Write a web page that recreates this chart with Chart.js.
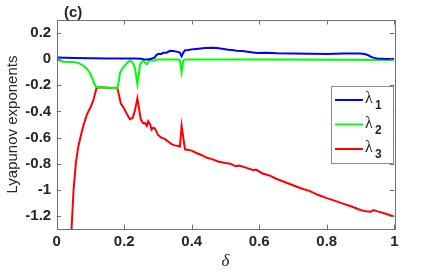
<!DOCTYPE html>
<html>
<head>
<meta charset="utf-8">
<script src="https://cdn.jsdelivr.net/npm/chart.js@4"></script>
<style>
  html, body { margin: 0; padding: 0; background: #fff; }
  #wrap { width: 436px; height: 273px; }
</style>
</head>
<body>
<div id="wrap"><canvas id="c" width="436" height="273"></canvas></div>
<script>
const seriesNames = ['λ1', 'λ2', 'λ3'];
const seriesColors = ['#0000ff', '#00ff00', '#ff0000'];

const xTicks = [0, 0.2, 0.4, 0.6, 0.8, 1];
const xTickLabels = ['0', '0.2', '0.4', '0.6', '0.8', '1'];
const yTicks = [0.2, 0, -0.2, -0.4, -0.6, -0.8, -1, -1.2];
const yTickLabels = ['0.2', '0', '-0.2', '-0.4', '-0.6', '-0.8', '-1', '-1.2'];

// lambda 1
const delta1 = [0, 0.05, 0.1, 0.15, 0.2, 0.23, 0.25, 0.26, 0.27, 0.28, 0.29, 0.295, 0.3, 0.31, 0.316, 0.325,
  0.336, 0.345, 0.355, 0.365, 0.37, 0.375, 0.38, 0.39, 0.405, 0.42, 0.44, 0.46, 0.474, 0.49, 0.508, 0.52,
  0.533, 0.55, 0.57, 0.593, 0.62, 0.652, 0.7, 0.75, 0.8, 0.85, 0.899, 0.915, 0.923, 0.93, 0.938, 0.95, 0.97, 1];
const lambda1 = [0.012, 0.01, 0.007, 0.005, 0.005, 0.006, 0.003, -0.003, -0.002, 0.003, 0.012, 0.03, 0.04, 0.04, 0.05, 0.05,
  0.064, 0.062, 0.058, 0.05, 0.022, 0.05, 0.068, 0.07, 0.077, 0.08, 0.085, 0.087, 0.085, 0.08, 0.073, 0.07,
  0.064, 0.062, 0.055, 0.047, 0.05, 0.046, 0.044, 0.042, 0.04, 0.043, 0.043, 0.038, 0.03, 0.02, 0.012, 0.006, 0.003, 0.002];

// lambda 2
const delta2 = [0, 0.01, 0.02, 0.04, 0.055, 0.065, 0.079, 0.09, 0.097, 0.103, 0.108, 0.113, 0.118, 0.13, 0.15, 0.17,
  0.18, 0.184, 0.188, 0.195, 0.202, 0.21, 0.217, 0.225, 0.232, 0.236, 0.239, 0.243, 0.247, 0.252, 0.257, 0.262,
  0.267, 0.272, 0.276, 0.282, 0.286, 0.295, 0.3, 0.36, 0.365, 0.37, 0.375, 0.38, 0.6, 0.8, 1];
const lambda2 = [0, -0.012, -0.02, -0.021, -0.023, -0.03, -0.05, -0.075, -0.1, -0.13, -0.167, -0.195, -0.215, -0.215, -0.218, -0.22,
  -0.222, -0.17, -0.1, -0.07, -0.05, -0.025, -0.01, -0.025, -0.07, -0.14, -0.19, -0.12, -0.04, -0.02, -0.013, -0.03,
  -0.04, -0.02, -0.005, -0.01, -0.013, -0.004, -0.003, -0.003, -0.01, -0.1, -0.01, -0.003, -0.003, -0.004, -0.006];

// lambda 3
const delta3 = [0.04, 0.044, 0.05, 0.057, 0.064, 0.071, 0.08, 0.09, 0.1, 0.108, 0.113, 0.118, 0.13, 0.15, 0.17, 0.18,
  0.185, 0.19, 0.2, 0.21, 0.217, 0.225, 0.232, 0.239, 0.244, 0.249, 0.256, 0.262, 0.267, 0.271, 0.277, 0.281,
  0.286, 0.291, 0.3, 0.31, 0.32, 0.33, 0.34, 0.35, 0.36, 0.365, 0.37, 0.375, 0.38, 0.39, 0.4, 0.415,
  0.43, 0.445, 0.46, 0.48, 0.5, 0.514, 0.53, 0.54, 0.56, 0.583, 0.59, 0.61, 0.63, 0.65, 0.675, 0.7,
  0.725, 0.75, 0.775, 0.8, 0.825, 0.85, 0.875, 0.9, 0.915, 0.93, 0.938, 0.95, 0.97, 1];
const lambda3 = [-1.5, -1.3, -1.0, -0.79, -0.67, -0.59, -0.5, -0.42, -0.37, -0.32, -0.27, -0.22, -0.215, -0.218, -0.22, -0.225,
  -0.28, -0.34, -0.38, -0.43, -0.46, -0.45, -0.39, -0.3, -0.38, -0.46, -0.49, -0.49, -0.51, -0.475, -0.5, -0.54,
  -0.525, -0.53, -0.58, -0.6, -0.61, -0.63, -0.65, -0.66, -0.665, -0.67, -0.51, -0.6, -0.69, -0.695, -0.7, -0.72,
  -0.735, -0.755, -0.765, -0.785, -0.795, -0.8, -0.82, -0.815, -0.83, -0.85, -0.845, -0.875, -0.89, -0.915, -0.94, -0.965,
  -0.99, -1.01, -1.04, -1.064, -1.085, -1.108, -1.13, -1.154, -1.165, -1.168, -1.155, -1.165, -1.18, -1.205];

const pts = (xs, ys) => xs.map((x, i) => ({ x: x, y: ys[i] }));
const allDelta = [delta1, delta2, delta3];
const allLambda = [lambda1, lambda2, lambda3];

const textColor = '#262626';
const axisColor = '#707070';

// MATLAB style box, inner ticks, panel tag and legend
const matlabBox = {
  id: 'matlabBox',
  afterDatasetsDraw(chart) {
    const { ctx, chartArea: a, scales } = chart;
    ctx.save();
    ctx.strokeStyle = axisColor;
    ctx.lineWidth = 1;
    ctx.strokeRect(Math.round(a.left) + 0.5, Math.round(a.top) + 0.5,
      Math.round(a.right - a.left), Math.round(a.bottom - a.top));
    const tl = 4.5;
    ctx.beginPath();
    xTicks.forEach(v => {
      const px = Math.round(scales.x.getPixelForValue(v)) + 0.5;
      ctx.moveTo(px, a.bottom); ctx.lineTo(px, a.bottom - tl);
      ctx.moveTo(px, a.top); ctx.lineTo(px, a.top + tl);
    });
    yTicks.forEach(v => {
      const py = Math.round(scales.y.getPixelForValue(v)) + 0.5;
      ctx.moveTo(a.left, py); ctx.lineTo(a.left + tl, py);
      ctx.moveTo(a.right, py); ctx.lineTo(a.right - tl, py);
    });
    ctx.stroke();

    // panel tag
    ctx.fillStyle = textColor;
    ctx.font = 'bold 15px "Liberation Sans", Arial, sans-serif';
    ctx.textBaseline = 'middle';
    ctx.textAlign = 'left';
    ctx.fillText('(c)', 64, 13);

    // legend
    const lx = 331, ly = 86, lw = 62, lh = 77;
    ctx.fillStyle = '#fff';
    ctx.fillRect(lx, ly, lw, lh);
    ctx.strokeStyle = '#8c8c8c';
    ctx.strokeRect(lx + 0.5, ly + 0.5, lw, lh);
    chart.data.datasets.forEach((ds, i) => {
      const y = 100 + i * 24.5;
      ctx.strokeStyle = ds.borderColor;
      ctx.lineWidth = 2;
      ctx.beginPath();
      ctx.moveTo(335, y); ctx.lineTo(363, y);
      ctx.stroke();
      ctx.fillStyle = textColor;
      ctx.font = '16px "Liberation Serif", "DejaVu Serif", serif';
      ctx.textBaseline = 'alphabetic';
      ctx.fillText(ds.label.charAt(0), 365, y + 3);
      ctx.font = 'bold 12px "Liberation Sans", Arial, sans-serif';
      ctx.fillText(ds.label.slice(1), 375, y + 9);
    });
    ctx.restore();
  }
};

new Chart(document.getElementById('c'), {
  type: 'line',
  data: {
    datasets: seriesNames.map((name, i) => ({
      label: name,
      data: pts(allDelta[i], allLambda[i]),
      borderColor: seriesColors[i],
      backgroundColor: seriesColors[i],
      borderWidth: 2,
      pointRadius: 0,
      tension: 0,
      fill: false
    }))
  },
  options: {
    responsive: false,
    animation: false,
    events: [],
    layout: { padding: { left: 0, right: 41.7, top: 20, bottom: 0 } },
    plugins: { legend: { display: false }, tooltip: { enabled: false } },
    scales: {
      x: {
        type: 'linear',
        min: 0,
        max: 1,
        afterBuildTicks: s => { s.ticks = xTicks.map(v => ({ value: v })); },
        afterFit: s => { s.height = 44; },
        grid: { display: false, drawTicks: false },
        border: { display: false },
        ticks: {
          padding: 4,
          color: textColor,
          font: { family: '"Liberation Sans", Arial, sans-serif', size: 15, weight: 'bold' },
          maxRotation: 0,
          autoSkip: false,
          callback: (v, i) => xTickLabels[i]
        },
        title: {
          display: true,
          text: 'δ',
          color: textColor,
          padding: { top: 0, bottom: 1 },
          font: { family: '"Liberation Serif", "DejaVu Serif", serif', size: 17, style: 'italic' }
        }
      },
      y: {
        type: 'linear',
        min: -1.3,
        max: 0.3,
        afterBuildTicks: s => { s.ticks = yTicks.map(v => ({ value: v })); },
        afterFit: s => { s.width = 56.7; },
        grid: { display: false, drawTicks: false },
        border: { display: false },
        ticks: {
          padding: 5.5,
          color: textColor,
          font: { family: '"Liberation Sans", Arial, sans-serif', size: 15, weight: 'bold' },
          autoSkip: false,
          callback: (v, i) => yTickLabels[i]
        },
        title: {
          display: true,
          text: 'Lyapunov exponents',
          color: textColor,
          padding: { top: 3.5, bottom: 0 },
          font: { family: '"Liberation Sans", Arial, sans-serif', size: 15 }
        }
      }
    }
  },
  plugins: [matlabBox]
});
</script>
</body>
</html>
